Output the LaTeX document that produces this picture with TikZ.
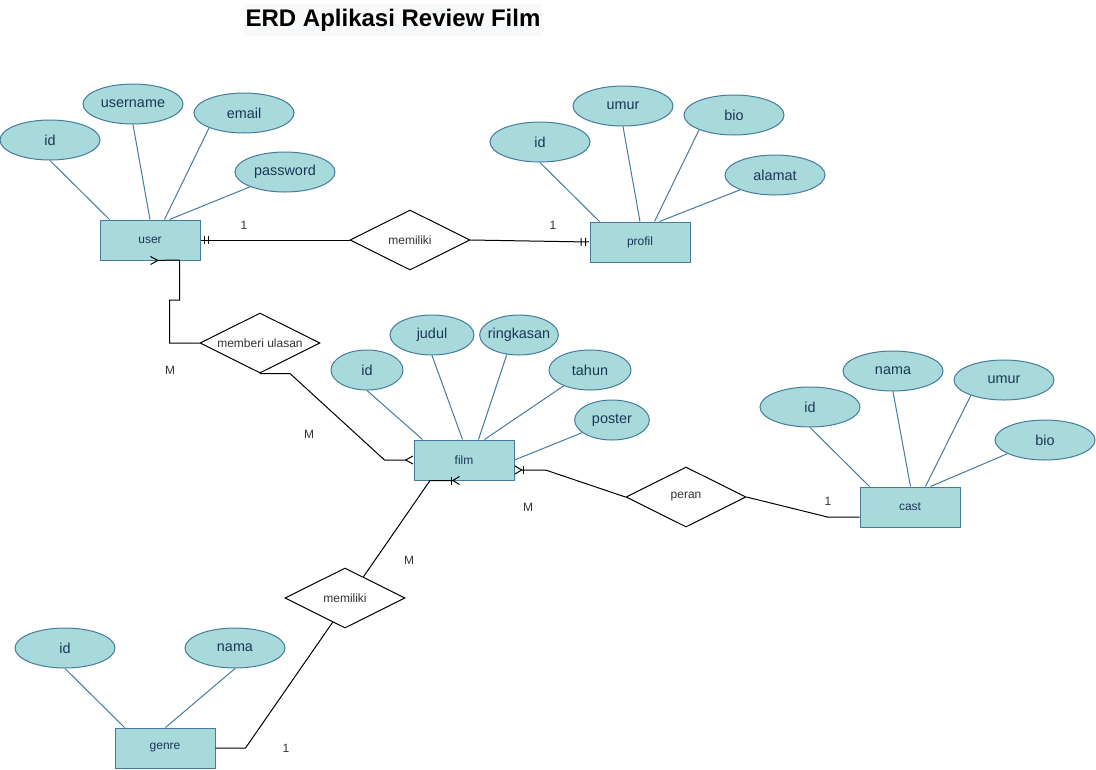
\documentclass[tikz,border=0pt]{standalone}
\usepackage{fontspec}
\setmainfont{Liberation Sans}
\usetikzlibrary{shapes.geometric,arrows.meta,calc}

\definecolor{entfill}{HTML}{A8DADC}
\definecolor{entline}{HTML}{457B9D}
\definecolor{enttext}{HTML}{1D3557}
\definecolor{titlebg}{HTML}{F8F9FA}

\tikzset{
    entity/.style={draw=entline, fill=entfill, text=enttext, line width=0.75pt, minimum width=75pt, minimum height=30pt, inner sep=0pt, font=\fontsize{9}{10}\selectfont},
    attr/.style={ellipse, draw=entline, fill=entfill, text=enttext, line width=0.75pt, minimum width=75pt, minimum height=30pt, inner sep=0pt, font=\fontsize{10.8}{12}\selectfont},
    rel/.style={diamond, aspect=2, draw, fill=white, line width=0.75pt, minimum width=90pt, minimum height=45pt, inner sep=0pt, text=black!80, font=\fontsize{9}{10}\selectfont},
    attrline/.style={draw=entline, line width=0.75pt},
    conn/.style={draw=black, line width=0.75pt},
    card/.style={text=black!80, font=\fontsize{9}{10}\selectfont},
    ermany/.tip={Straight Barb[reversed, length=5.5pt, width=6pt, line width=0.75pt]},
    ermandone/.tip={Bar[width=6pt, line width=0.75pt, sep=2.6pt] Bar[width=6pt, line width=0.75pt, sep=1.8pt] Bar[width=0pt, line width=0.75pt]},
    eronemany/.tip={Bar[width=6pt, line width=0.75pt] Straight Barb[reversed, length=5pt, width=6pt, line width=0.75pt]},
}

\begin{document}
\begin{tikzpicture}[x=0.75pt, y=-0.75pt]
    \useasboundingbox (0,0) rectangle (1096,769);

    \node[fill=titlebg, inner xsep=1pt, minimum height=22pt, font=\bfseries\fontsize{18}{20}\selectfont] (title) at (393,20) {ERD Aplikasi Review Film};

    % entities
    \node[entity] (user) at (150,240) {user};
    \node[entity] (profil) at (640,242) {profil};
    \node[entity] (film) at (464,460) {film};
    \node[entity] (cast) at (910,507) {cast};
    \node[entity] (genre) at (165,748) {genre};

    % relations
    \node[rel] (milik1) at (410,240) {memiliki};
    \node[rel] (ulasan) at (260,343) {memberi ulasan};
    \node[rel] (peran) at (686,497) {peran};
    \node[rel] (milik2) at (345,598) {memiliki};

    % attributes of user
    \node[attr] (uid) at (50,140) {id};
    \node[attr] (uname) at (133,104) {username};
    \node[attr] (uemail) at (244,113) {email};
    \node[attr] (upass) at (285,172) {password};
    \draw[attrline] (uid.south) -- ($(user.north west)+(10,0)$);
    \draw[attrline] (uname.south) -- (user.north);
    \draw[attrline] (uemail.203) -- ($(user.north west)+(65,0)$);
    \draw[attrline] (upass.203) -- ($(user.north west)+(70,0)$);

    % attributes of profil
    \node[attr] (pid) at (540,142) {id};
    \node[attr] (pumur) at (623,106) {umur};
    \node[attr] (pbio) at (734,115) {bio};
    \node[attr] (palamat) at (775,175) {alamat};
    \draw[attrline] (pid.south) -- ($(profil.north west)+(10,0)$);
    \draw[attrline] (pumur.south) -- (profil.north);
    \draw[attrline] (pbio.203) -- ($(profil.north west)+(65,0)$);
    \draw[attrline] (palamat.203) -- ($(profil.north west)+(70,0)$);

    % attributes of film
    \node[attr, minimum width=54pt] (fid) at (367,370) {id};
    \node[attr, minimum width=63pt] (fjudul) at (432,335) {judul};
    \node[attr, minimum width=59pt, inner xsep=-6pt] (fring) at (519,335) {ringkasan};
    \node[attr, minimum width=61.5pt] (ftahun) at (590,370) {tahun};
    \node[attr, minimum width=56pt] (fposter) at (612,420) {poster};
    \draw[attrline] (fid.south) -- ($(film.north west)+(9,0)$);
    \draw[attrline] (fjudul.south) -- ($(film.north west)+(49,0)$);
    \draw[attrline] (fring.238) -- ($(film.north west)+(65,0)$);
    \draw[attrline] (ftahun.211) -- ($(film.north west)+(71,0)$);
    \draw[attrline] (fposter.203) -- (film.east);

    % attributes of cast
    \node[attr] (cid) at (810,407) {id};
    \node[attr] (cnama) at (893,371) {nama};
    \node[attr] (cumur) at (1004,380) {umur};
    \node[attr] (cbio) at (1045,440) {bio};
    \draw[attrline] (cid.south) -- ($(cast.north west)+(10,0)$);
    \draw[attrline] (cnama.south) -- ($(cast.north west)+(51,0)$);
    \draw[attrline] (cumur.205) -- ($(cast.north west)+(66,0)$);
    \draw[attrline] (cbio.200) -- ($(cast.north west)+(71,0)$);

    % attributes of genre
    \node[attr] (gid) at (65,648) {id};
    \node[attr] (gnama) at (235,648) {nama};
    \draw[attrline] (gid.south) -- ($(genre.north west)+(10,0)$);
    \draw[attrline] (gnama.south) -- ($(genre.north west)+(51,0)$);

    % connectors
    \draw[conn, -ermandone] (milik1.west) -- (user.east);
    \draw[conn, -ermandone] (milik1.east) -- (profil.west);
    \draw[conn, -ermany] (ulasan.west) -- ++(-30,0) -- ++(0,-43) -- ++(10,0) -- ++(0,-40) -- (user.south);
    \draw[conn, -ermany] (ulasan.south) -- ++(30,0) -- ($(film.west)+(-29,0)$) -- (film.west);
    \draw[conn, -eronemany] (peran.west) -- ($(film.east)+(31,10)$) -- ($(film.east)+(0,10)$);
    \draw[conn] (peran.east) -- ($(cast.west)+(-32,10)$) -- ($(cast.west)+(0,10)$);
    \draw[conn, -eronemany] (milik2.49) -- ($(film.south)+(-34,0)$) -- ($(film.south)+(-4,0)$);
    \draw[conn] (milik2.-117) -- ($(genre.east)+(30,0)$) -- (genre.east);

    % cardinalities
    \node[card] (c1) at (244,225) {1};
    \node[card] (c2) at (553,225) {1};
    \node[card] (c3) at (170,370) {M};
    \node[card] (c4) at (309,434) {M};
    \node[card] (c5) at (528,507) {M};
    \node[card] (c6) at (828,501) {1};
    \node[card] (c7) at (409,560) {M};
    \node[card] (c8) at (286,748) {1};
\end{tikzpicture}
\end{document}
